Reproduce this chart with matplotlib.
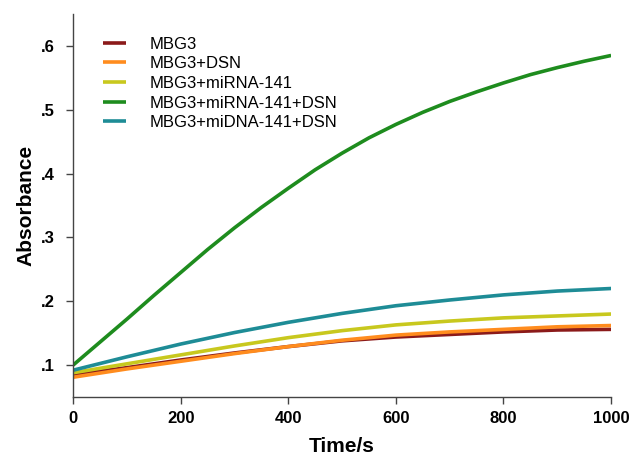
import matplotlib
matplotlib.use("Agg")
import matplotlib.pyplot as plt
from matplotlib.ticker import FuncFormatter

plt.rcParams['font.family'] = ['Liberation Sans', 'DejaVu Sans']

# readings of the kinetic traces (absorbance vs time)
time_100 = [0, 100, 200, 300, 400, 500, 600, 700, 800, 900, 1000]
time_50 = [0, 50, 100, 150, 200, 250, 300, 350, 400, 450, 500,
           550, 600, 650, 700, 750, 800, 850, 900, 950, 1000]

mbg3 = [0.085, 0.096, 0.108, 0.119, 0.129, 0.138, 0.144, 0.148, 0.152, 0.155, 0.156]
mbg3_dsn = [0.081, 0.094, 0.106, 0.118, 0.129, 0.139, 0.147, 0.152, 0.156, 0.160, 0.162]
mbg3_mirna = [0.088, 0.102, 0.116, 0.130, 0.143, 0.154, 0.163, 0.169, 0.174, 0.177, 0.180]
mbg3_mirna_dsn = [0.100, 0.136, 0.172, 0.209, 0.245, 0.281, 0.315, 0.347, 0.377, 0.406, 0.432,
                  0.456, 0.477, 0.496, 0.513, 0.528, 0.542, 0.555, 0.566, 0.576, 0.585]
mbg3_midna_dsn = [0.092, 0.113, 0.133, 0.151, 0.167, 0.181, 0.193, 0.202, 0.210, 0.216, 0.220]

labels = ['MBG3', 'MBG3+DSN', 'MBG3+miRNA-141', 'MBG3+miRNA-141+DSN', 'MBG3+miDNA-141+DSN']
colors = ['#8B1A1A', '#FF8C1E', '#C8C81E', '#1E8C1E', '#1E8C96']

fig = plt.figure(figsize=(6.3, 4.66), dpi=100)
ax = fig.add_axes([0.116, 0.148, 0.854, 0.822])

series = [(time_100, mbg3), (time_100, mbg3_dsn), (time_100, mbg3_mirna),
          (time_50, mbg3_mirna_dsn), (time_100, mbg3_midna_dsn)]
for (t, y), lab, c in zip(series, labels, colors):
    ax.plot(t, y, color=c, lw=2.6, label=lab, solid_capstyle='butt')

ax.set_xlim(0, 1000)
ax.set_ylim(0.05, 0.65)
ax.set_xticks([0, 200, 400, 600, 800, 1000])
ax.set_yticks([0.1, 0.2, 0.3, 0.4, 0.5, 0.6])
ax.yaxis.set_major_formatter(FuncFormatter(lambda v, p: ('%.1f' % v).lstrip('0')))

for s in ['top', 'right']:
    ax.spines[s].set_visible(False)
for s in ['left', 'bottom']:
    ax.spines[s].set_color('#444444')
    ax.spines[s].set_linewidth(1.0)

ax.tick_params(direction='out', length=5, width=1, color='#444444', labelsize=12)
ax.tick_params(axis='x', pad=5)
ax.tick_params(axis='y', pad=8)
for lbl in ax.get_xticklabels() + ax.get_yticklabels():
    lbl.set_fontweight('bold')

ax.set_xlabel('Time/s', fontsize=15, fontweight='bold', labelpad=8)
ax.set_ylabel('Absorbance', fontsize=15, fontweight='bold', labelpad=4)

ax.legend(loc='upper left', bbox_to_anchor=(0.028, 0.98), frameon=False,
          fontsize=12, handlelength=1.4, handletextpad=1.4, labelspacing=0.28)

fig.savefig('out.png', dpi=100)
